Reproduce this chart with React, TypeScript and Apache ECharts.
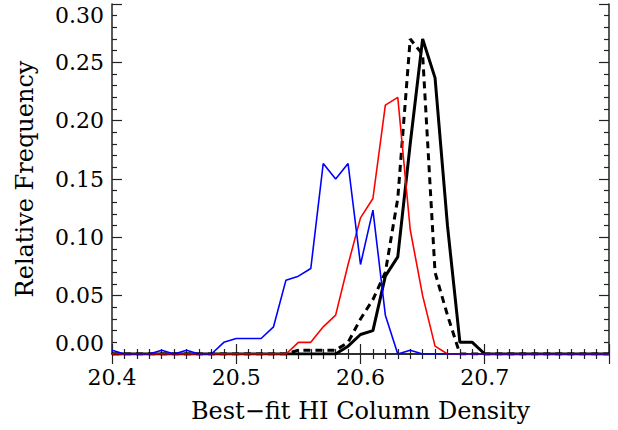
import React, { useEffect, useRef } from "react";
import * as echarts from "echarts";

const xValues = [
  20.40, 20.41, 20.42, 20.43, 20.44, 20.45, 20.46, 20.47, 20.48, 20.49,
  20.50, 20.51, 20.52, 20.53, 20.54, 20.55, 20.56, 20.57, 20.58, 20.59,
  20.60, 20.61, 20.62, 20.63, 20.64, 20.65, 20.66, 20.67, 20.68, 20.69,
  20.70, 20.71, 20.72, 20.73, 20.74, 20.75, 20.76, 20.77, 20.78, 20.79,
  20.80,
];

const blueValues = [
  0.0033, 0, 0, 0, 0.0033, 0, 0.0033, 0, 0, 0.0100,
  0.0133, 0.0133, 0.0133, 0.0233, 0.0633, 0.0667, 0.0733, 0.1633, 0.1500, 0.1633,
  0.0767, 0.1233, 0.0333, 0, 0.0033, 0, 0, 0, 0, 0,
  0, 0, 0, 0, 0, 0, 0, 0, 0, 0,
  0,
];

const redValues = [
  0, 0, 0, 0, 0, 0, 0, 0, 0, 0,
  0, 0, 0, 0, 0, 0.0100, 0.0100, 0.0233, 0.0333, 0.0767,
  0.1167, 0.1333, 0.2133, 0.2200, 0.1067, 0.0500, 0.0067, 0, 0, 0,
  0, 0, 0, 0, 0, 0, 0, 0, 0, 0,
  0,
];

const solidBlackValues = [
  0, 0, 0, 0, 0, 0, 0, 0, 0, 0,
  0, 0, 0, 0, 0, 0, 0, 0, 0, 0.0067,
  0.0167, 0.0200, 0.0667, 0.0833, 0.1800, 0.2700, 0.2367, 0.1100, 0.0100, 0.0100,
  0, 0, 0, 0, 0, 0, 0, 0, 0, 0,
  0,
];

const dashedBlackValues = [
  0, 0, 0, 0, 0, 0, 0, 0, 0, 0,
  0, 0, 0, 0, 0, 0.0033, 0.0033, 0.0033, 0.0033, 0.0100,
  0.0300, 0.0467, 0.0700, 0.1333, 0.2700, 0.2567, 0.0700, 0.0333, 0, 0,
  0, 0, 0, 0, 0, 0, 0, 0, 0, 0,
  0,
];

const xTickLabels = ["20.4", "20.5", "20.6", "20.7"];
const yTickLabels = ["0.00", "0.05", "0.10", "0.15", "0.20", "0.25", "0.30"];

const FONT = "DejaVu Serif";

function pairs(vals: number[]) {
  return xValues.map((x, i) => [x, vals[i]]);
}

export default function App() {
  const ref = useRef<HTMLDivElement>(null);
  useEffect(() => {
    if (!ref.current) return;
    const chart = echarts.init(ref.current, null, { renderer: "svg" });
    const axisLine = { show: true, lineStyle: { color: "#222", width: 1.5 } };
    const tick = { show: true, inside: true, length: 10, lineStyle: { color: "#222", width: 1.2 } };
    const minor = { show: true, length: 5, lineStyle: { color: "#222", width: 1.2 } };
    chart.setOption({
      animation: false,
      backgroundColor: "#fff",
      grid: { left: 112, right: 9, top: 4, bottom: 76, containLabel: false },
      xAxis: [
        {
          type: "value",
          min: 20.4,
          max: 20.8,
          interval: 0.1,
          position: "bottom",
          axisLine,
          axisTick: tick,
          minorTick: { ...minor, splitNumber: 10 },
          splitLine: { show: false },
          axisLabel: {
            show: true,
            margin: 12,
            fontFamily: FONT,
            fontSize: 22,
            color: "#000",
            showMaxLabel: false,
            formatter: (v: number) => {
              const s = v.toFixed(1);
              return xTickLabels.indexOf(s) >= 0 ? s : "";
            },
          },
          name: "Best\u2212fit HI Column Density",
          nameLocation: "middle",
          nameGap: 45,
          nameTextStyle: { fontFamily: FONT, fontSize: 24, color: "#000" },
        },
        {
          type: "value",
          min: 20.4,
          max: 20.8,
          interval: 0.1,
          position: "top",
          axisLine,
          axisTick: tick,
          minorTick: { ...minor, splitNumber: 10 },
          splitLine: { show: false },
          axisLabel: { show: false },
        },
      ],
      yAxis: [
        {
          type: "value",
          min: 0,
          max: 0.3,
          interval: 0.05,
          position: "left",
          axisLine,
          axisTick: tick,
          minorTick: { ...minor, splitNumber: 5 },
          splitLine: { show: false },
          axisLabel: {
            show: true,
            margin: 8,
            fontFamily: FONT,
            fontSize: 22,
            color: "#000",
            verticalAlignMinLabel: "bottom",
            verticalAlignMaxLabel: "top",
            formatter: (v: number) => {
              const s = v.toFixed(2);
              return yTickLabels.indexOf(s) >= 0 ? s : "";
            },
          },
          name: "Relative Frequency",
          nameLocation: "middle",
          nameGap: 75,
          nameTextStyle: { fontFamily: FONT, fontSize: 24, color: "#000" },
        },
        {
          type: "value",
          min: 0,
          max: 0.3,
          interval: 0.05,
          position: "right",
          axisLine,
          axisTick: tick,
          minorTick: { ...minor, splitNumber: 5 },
          splitLine: { show: false },
          axisLabel: { show: false },
        },
      ],
      series: [
        {
          type: "line",
          data: pairs(solidBlackValues),
          showSymbol: false,
          symbol: "none",
          lineStyle: { color: "#000", width: 3 },
          z: 2,
        },
        {
          type: "line",
          data: pairs(dashedBlackValues),
          showSymbol: false,
          symbol: "none",
          lineStyle: { color: "#000", width: 3, type: [7, 5] },
          z: 3,
        },
        {
          type: "line",
          data: pairs(redValues),
          showSymbol: false,
          symbol: "none",
          lineStyle: { color: "#ff0000", width: 1.6 },
          z: 4,
        },
        {
          type: "line",
          data: pairs(blueValues),
          showSymbol: false,
          symbol: "none",
          lineStyle: { color: "#0000ff", width: 1.6 },
          z: 5,
        },
      ],
    });
    return () => chart.dispose();
  }, []);
  return (
    <div
      ref={ref}
      style={{ position: "fixed", left: 0, top: 0, width: 618, height: 430, background: "#fff" }}
    />
  );
}
